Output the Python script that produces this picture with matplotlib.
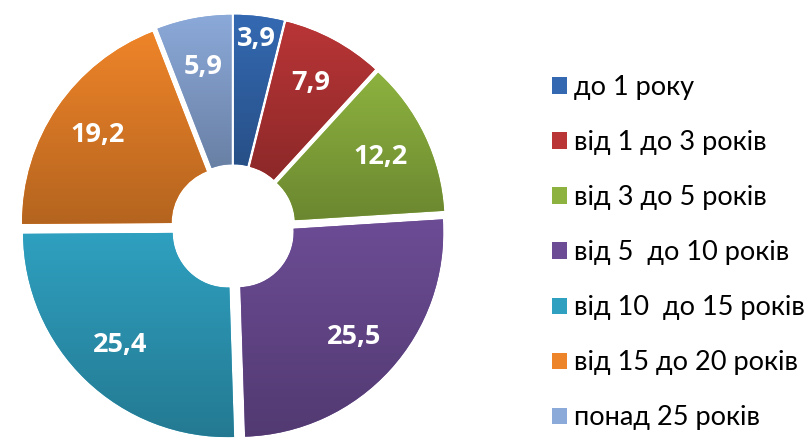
import numpy as np
import matplotlib.pyplot as plt
from matplotlib.colors import to_rgb

plt.rcParams['font.family'] = ['Lato', 'DejaVu Sans']

categories = ['до 1 року', 'від 1 до 3 років', 'від 3 до 5 років', 'від 5  до 10 років',
              'від 10  до 15 років', 'від 15 до 20 років', 'понад 25 років']
values = [3.9, 7.9, 12.2, 25.5, 25.4, 19.2, 5.9]
colors = ['#3469B2', '#B93536', '#8DB23F', '#6C4C95', '#2FA0C0', '#EE8429', '#8BA9D9']

labels = [f'{v:.1f}'.replace('.', ',') for v in values]

fig = plt.figure(figsize=(8.12, 4.4), dpi=100)
ax = fig.add_axes([13 / 812, -7 / 440, 440 / 812, 1])

wedges, texts = ax.pie(values, colors=colors, startangle=90, counterclock=False,
                       radius=0.93, explode=[0.035] * len(values),
                       labels=labels, labeldistance=0.76,
                       wedgeprops=dict(width=0.68, edgecolor='none'),
                       textprops=dict(color='white', fontsize=19.5, fontweight='bold',
                                      family=['Open Sans', 'DejaVu Sans']))

# vertical shading inside each slice
for w, c in zip(wedges, colors):
    bb = w.get_path().get_extents()
    grad = np.linspace(1.0, 0.76, 64)[:, None, None] * np.array(to_rgb(c))
    im = ax.imshow(grad, extent=(bb.x0, bb.x1, bb.y0, bb.y1), origin='upper',
                   aspect='auto', interpolation='bilinear', zorder=w.get_zorder() + 0.1)
    im.set_clip_path(w)

for t in texts:
    t.set_ha('center')
    t.set_va('center')
    t.set_zorder(5)
# the smallest slice has its label pushed outward
x0, y0 = texts[0].get_position()
texts[0].set_position((x0 * 1.16, y0 * 1.16))

ax.set_xlim(-1, 1)
ax.set_ylim(-1, 1)
ax.set_aspect('equal')
ax.axis('off')

fig.legend(wedges, categories, loc='upper left', bbox_to_anchor=(552 / 812, 1 - 75 / 440),
           frameon=False, fontsize=19.5, handlelength=0.55, handleheight=0.55,
           handletextpad=0.25, labelspacing=1.11, borderaxespad=0, borderpad=0)

fig.savefig('out.png', dpi=100)
